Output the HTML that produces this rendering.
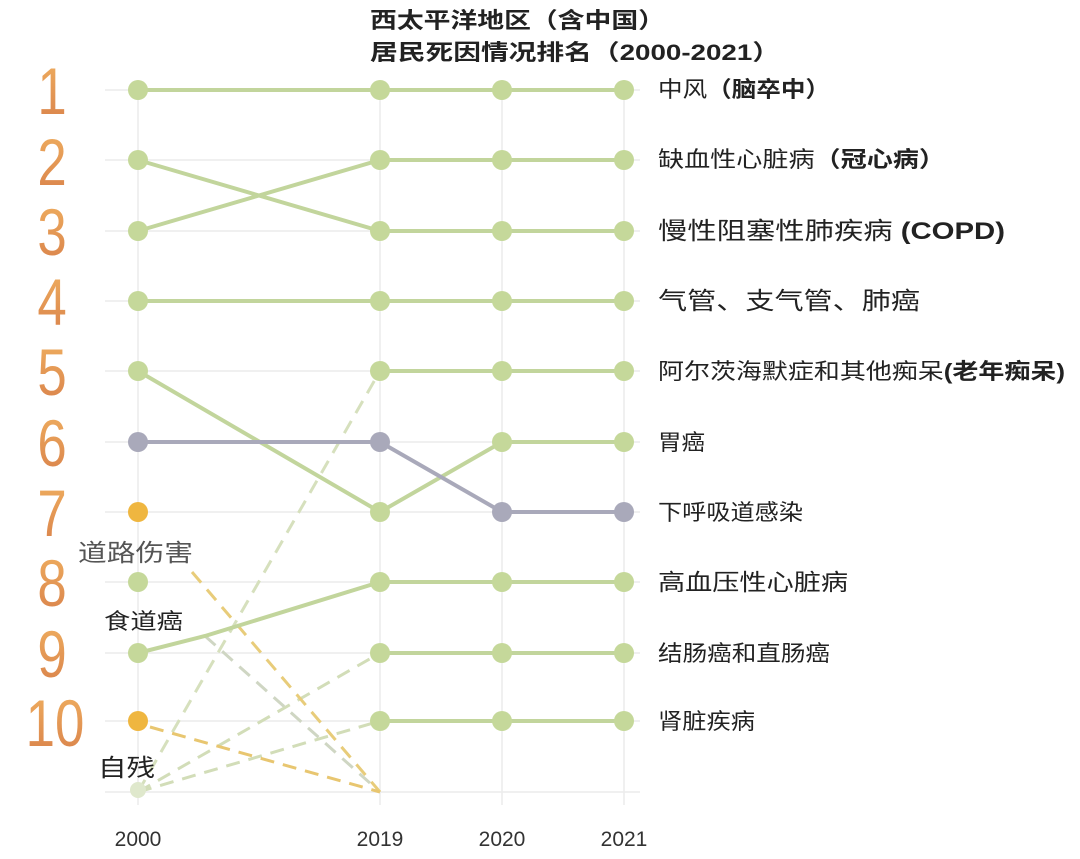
<!DOCTYPE html>
<html><head><meta charset="utf-8"><style>
body{margin:0;background:#fff;}
svg{display:block;font-family:"Liberation Sans","Noto Sans CJK SC",sans-serif;}
</style></head><body>
<svg width="1080" height="859" viewBox="0 0 1080 859">
<defs><linearGradient id="og" x1="0" y1="0" x2="0" y2="1"><stop offset="0" stop-color="#f0b060"/><stop offset="1" stop-color="#d8804a"/></linearGradient></defs>
<g stroke="#ececec" stroke-width="1.5">
<line x1="105" y1="90" x2="640" y2="90"/><line x1="105" y1="160" x2="640" y2="160"/><line x1="105" y1="231" x2="640" y2="231"/><line x1="105" y1="301" x2="640" y2="301"/><line x1="105" y1="371" x2="640" y2="371"/><line x1="105" y1="442" x2="640" y2="442"/><line x1="105" y1="512" x2="640" y2="512"/><line x1="105" y1="582" x2="640" y2="582"/><line x1="105" y1="653" x2="640" y2="653"/><line x1="105" y1="721" x2="640" y2="721"/><line x1="105" y1="792" x2="640" y2="792"/>
<line x1="138" y1="90" x2="138" y2="805"/><line x1="380" y1="90" x2="380" y2="805"/><line x1="502" y1="90" x2="502" y2="805"/><line x1="624" y1="90" x2="624" y2="805"/>
</g>
<g fill="none" stroke-width="3" stroke-dasharray="14 9">
<line x1="138" y1="792" x2="380" y2="371" stroke="#d6e0bd"/>
<line x1="138" y1="792" x2="380" y2="653" stroke="#d2ddb8"/>
<line x1="138" y1="792" x2="380" y2="721" stroke="#d2ddb8"/>
<line x1="205" y1="636" x2="380" y2="792" stroke="#cfd6c3"/>
<line x1="192" y1="572" x2="380" y2="792" stroke="#e8cc7a"/>
<line x1="150" y1="727" x2="380" y2="792" stroke="#e8c670"/>
</g>
<g fill="none" stroke="#c2d59c" stroke-width="4">
<polyline points="138,90 624,90"/>
<polyline points="138,160 380,231 624,231"/>
<polyline points="138,231 380,160 624,160"/>
<polyline points="138,301 624,301"/>
<polyline points="138,371 380,512 502,442 624,442"/>
<polyline points="380,371 624,371"/>
<polyline points="138,653 205,636 380,582 624,582"/>
<polyline points="380,653 624,653"/>
<polyline points="380,721 624,721"/>
</g>
<polyline points="138,442 380,442 502,512 624,512" fill="none" stroke="#a9a9ba" stroke-width="4"/>
<g fill="#c5d89a">
<circle cx="138" cy="90" r="10"/><circle cx="380" cy="90" r="10"/><circle cx="502" cy="90" r="10"/><circle cx="624" cy="90" r="10"/>
<circle cx="138" cy="160" r="10"/><circle cx="380" cy="160" r="10"/><circle cx="502" cy="160" r="10"/><circle cx="624" cy="160" r="10"/>
<circle cx="138" cy="231" r="10"/><circle cx="380" cy="231" r="10"/><circle cx="502" cy="231" r="10"/><circle cx="624" cy="231" r="10"/>
<circle cx="138" cy="301" r="10"/><circle cx="380" cy="301" r="10"/><circle cx="502" cy="301" r="10"/><circle cx="624" cy="301" r="10"/>
<circle cx="138" cy="371" r="10"/><circle cx="380" cy="371" r="10"/><circle cx="502" cy="371" r="10"/><circle cx="624" cy="371" r="10"/>
<circle cx="380" cy="512" r="10"/><circle cx="502" cy="442" r="10"/><circle cx="624" cy="442" r="10"/>
<circle cx="138" cy="582" r="10"/><circle cx="380" cy="582" r="10"/><circle cx="502" cy="582" r="10"/><circle cx="624" cy="582" r="10"/>
<circle cx="138" cy="653" r="10"/><circle cx="380" cy="653" r="10"/><circle cx="502" cy="653" r="10"/><circle cx="624" cy="653" r="10"/>
<circle cx="380" cy="721" r="10"/><circle cx="502" cy="721" r="10"/><circle cx="624" cy="721" r="10"/>
<circle cx="138" cy="790" r="8" fill="#dfe8cc"/>
</g>
<g fill="#a9a9ba"><circle cx="138" cy="442" r="10"/><circle cx="380" cy="442" r="10"/><circle cx="502" cy="512" r="10"/><circle cx="624" cy="512" r="10"/></g>
<g fill="#efb640"><circle cx="138" cy="512" r="10"/><circle cx="138" cy="721" r="10"/></g>
<g fill="url(#og)" font-size="66" font-weight="300" text-anchor="middle">
<text x="52" y="114" transform="translate(52 0) scale(0.8 1) translate(-52 0)">1</text>
<text x="52" y="185" transform="translate(52 0) scale(0.8 1) translate(-52 0)">2</text>
<text x="52" y="255" transform="translate(52 0) scale(0.8 1) translate(-52 0)">3</text>
<text x="52" y="325" transform="translate(52 0) scale(0.8 1) translate(-52 0)">4</text>
<text x="52" y="395" transform="translate(52 0) scale(0.8 1) translate(-52 0)">5</text>
<text x="52" y="466" transform="translate(52 0) scale(0.8 1) translate(-52 0)">6</text>
<text x="52" y="536" transform="translate(52 0) scale(0.8 1) translate(-52 0)">7</text>
<text x="52" y="606" transform="translate(52 0) scale(0.8 1) translate(-52 0)">8</text>
<text x="52" y="677" transform="translate(52 0) scale(0.8 1) translate(-52 0)">9</text>
<text x="55" y="746" transform="translate(55 0) scale(0.8 1) translate(-55 0)">10</text>
</g>
<g font-size="22" fill="#222" font-weight="bold" lengthAdjust="spacingAndGlyphs">
<text x="370" y="28" textLength="295" lengthAdjust="spacingAndGlyphs">西太平洋地区（含中国）</text>
<text x="370" y="60" textLength="410" lengthAdjust="spacingAndGlyphs">居民死因情况排名（2000-2021）</text>
</g>
<g font-size="22" fill="#222">
<text x="658" y="97" textLength="172" lengthAdjust="spacingAndGlyphs">中风<tspan font-weight="bold">（脑卒中）</tspan></text>
<text x="658" y="167" textLength="287" lengthAdjust="spacingAndGlyphs">缺血性心脏病<tspan font-weight="bold">（冠心病）</tspan></text>
<text x="658" y="239" font-size="24" textLength="347" lengthAdjust="spacingAndGlyphs">慢性阻塞性肺疾病 <tspan font-weight="bold">(COPD)</tspan></text>
<text x="658" y="309" font-size="24" textLength="262" lengthAdjust="spacingAndGlyphs">气管、支气管、肺癌</text>
<text x="658" y="379" textLength="407" lengthAdjust="spacingAndGlyphs">阿尔茨海默症和其他痴呆<tspan font-weight="bold">(老年痴呆)</tspan></text>
<text x="658" y="450" textLength="47" lengthAdjust="spacingAndGlyphs">胃癌</text>
<text x="658" y="520" textLength="145" lengthAdjust="spacingAndGlyphs">下呼吸道感染</text>
<text x="658" y="590" font-size="23" textLength="190" lengthAdjust="spacingAndGlyphs">高血压性心脏病</text>
<text x="658" y="661" textLength="172" lengthAdjust="spacingAndGlyphs">结肠癌和直肠癌</text>
<text x="658" y="729" textLength="97" lengthAdjust="spacingAndGlyphs">肾脏疾病</text>
<text x="78" y="561" font-size="24" fill="#555" textLength="115" lengthAdjust="spacingAndGlyphs">道路伤害</text>
<text x="104" y="629" textLength="79" lengthAdjust="spacingAndGlyphs">食道癌</text>
<text x="98" y="776" font-size="24" textLength="57" lengthAdjust="spacingAndGlyphs">自残</text>
</g>
<g font-size="21" fill="#333" text-anchor="middle">
<text x="138" y="846">2000</text><text x="380" y="846">2019</text><text x="502" y="846">2020</text><text x="624" y="846">2021</text>
</g>
</svg>
</body></html>
